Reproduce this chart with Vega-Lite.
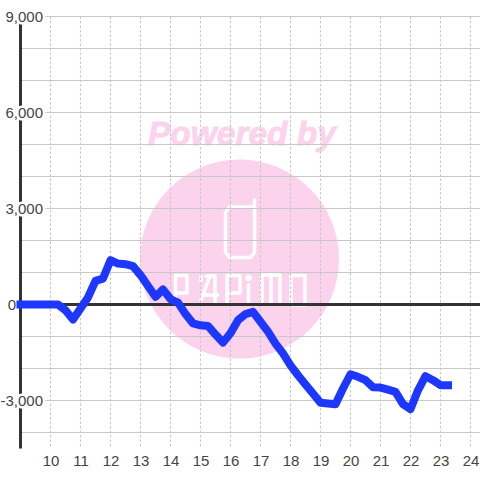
{"$schema":"https://vega.github.io/schema/vega-lite/v6.json","autosize":"none","width":459.5,"height":432,"padding":{"left":20.5,"top":16.5,"right":0,"bottom":31.5},"background":"white","config":{"view":{"stroke":null},"font":"Liberation Sans"},
"encoding":{"x":{"field":"x","type":"quantitative","scale":{"domain":[9,24.317],"nice":false,"zero":false},"axis":{"values":[10,11,12,13,14,15,16,17,18,19,20,21,22,23,24],"title":null,"grid":false,"domain":false,"ticks":false,"labelFont":"Liberation Sans","labelFontSize":15,"labelColor":"#444444","labelPadding":5,"labelFlush":false,"labelOverlap":false}},"y":{"field":"y","type":"quantitative","axis":null,"scale":{"domain":[-4500,9000],"nice":false,"zero":false}}},
"layer":[
{"data":{"values":[{"x":16.3,"y":1420}]},"mark":{"type":"point","filled":true,"size":39600,"color":"#fbd3ec","opacity":1}},
{"data":{"values":[{"x":16.38,"y":5312,"t":"Powered by"}]},"mark":{"type":"text","font":"Liberation Sans","fontWeight":"bold","fontStyle":"italic","fontSize":33.5,"color":"#fbd3ec","stroke":"#fbd3ec","strokeWidth":0.8,"align":"center","baseline":"middle"},"encoding":{"text":{"field":"t"}}},
{"data":{"values":[
{"s":"phone","o":1,"x":16.8,"y":3266},{"s":"phone","o":2,"x":16.8,"y":1625},{"s":"phone","o":3,"x":16.667,"y":1469},{"s":"phone","o":4,"x":15.967,"y":1469},{"s":"phone","o":5,"x":15.833,"y":1625},{"s":"phone","o":6,"x":15.833,"y":2875},{"s":"phone","o":7,"x":15.967,"y":3047},{"s":"phone","o":8,"x":16.8,"y":3047},
{"s":"p1","o":1,"x":14.167,"y":16},{"s":"p1","o":2,"x":14.167,"y":906},{"s":"p1","o":3,"x":14.55,"y":906},{"s":"p1","o":4,"x":14.55,"y":359},{"s":"p1","o":5,"x":14.167,"y":359},
{"s":"a1","o":1,"x":15.183,"y":891},{"s":"a1","o":2,"x":15.483,"y":891},{"s":"a1","o":3,"x":15.483,"y":16},
{"s":"a2","o":1,"x":15.317,"y":891},{"s":"a2","o":2,"x":15.017,"y":141},
{"s":"a3","o":1,"x":15.083,"y":297},{"s":"a3","o":2,"x":15.583,"y":297},
{"s":"a4","o":1,"x":15.017,"y":891},{"s":"a4","o":2,"x":15.017,"y":734},
{"s":"p2","o":1,"x":15.883,"y":16},{"s":"p2","o":2,"x":15.883,"y":906},{"s":"p2","o":3,"x":16.317,"y":906},{"s":"p2","o":4,"x":16.317,"y":359},{"s":"p2","o":5,"x":15.883,"y":359},
{"s":"i","o":1,"x":16.6,"y":609},{"s":"i","o":2,"x":16.6,"y":16},
{"s":"m1","o":1,"x":17.05,"y":16},{"s":"m1","o":2,"x":17.05,"y":922},{"s":"m1","o":3,"x":17.65,"y":922},{"s":"m1","o":4,"x":17.65,"y":16},
{"s":"m2","o":1,"x":17.35,"y":922},{"s":"m2","o":2,"x":17.35,"y":16},
{"s":"o","o":1,"x":18.017,"y":906},{"s":"o","o":2,"x":18.483,"y":906},{"s":"o","o":3,"x":18.483,"y":-16},{"s":"o","o":4,"x":18.017,"y":-16},{"s":"o","o":5,"x":18.017,"y":906}
]},"mark":{"type":"line","color":"white","strokeWidth":3.5,"strokeCap":"round","strokeJoin":"round","interpolate":"linear"},"encoding":{"detail":{"field":"s"},"order":{"field":"o"}}},
{"data":{"values":[{"x":16.6,"y":835}]},"mark":{"type":"point","filled":true,"size":45,"color":"white","opacity":1}},
{"data":{"values":[{"y":-4000},{"y":-3000},{"y":-2000},{"y":-1000},{"y":1000},{"y":2000},{"y":3000},{"y":4000},{"y":5000},{"y":6000},{"y":7000},{"y":8000},{"y":9000}]},"mark":{"type":"rule","color":"#c8c8c8","strokeWidth":1.1},"encoding":{"x":null}},
{"data":{"values":[{"x":10},{"x":11},{"x":12},{"x":13},{"x":14},{"x":15},{"x":16},{"x":17},{"x":18},{"x":19},{"x":20},{"x":21},{"x":22},{"x":23},{"x":24}]},"mark":{"type":"rule","color":"#c8c8c8","strokeWidth":1.1,"strokeDash":[2.5,2]},"encoding":{"y":null}},
{"data":{"values":[{"x":9}]},"mark":{"type":"rule","color":"#333333","strokeWidth":3},"encoding":{"y":null}},
{"data":{"values":[{"y":0}]},"mark":{"type":"rule","color":"#333333","strokeWidth":3},"encoding":{"x":null}},
{"data":{"values":[{"x":9.75,"y":9000,"t":"9,000"},{"x":9.75,"y":6000,"t":"6,000"},{"x":9.75,"y":3000,"t":"3,000"},{"x":9.75,"y":-3000,"t":"-3,000"},{"x":8.85,"y":0,"t":"0"}]},"mark":{"type":"text","font":"Liberation Sans","fontSize":15,"align":"right","baseline":"middle","color":"white","stroke":"white","strokeWidth":5},"encoding":{"text":{"field":"t"}}},
{"data":{"values":[{"x":9.75,"y":9000,"t":"9,000"},{"x":9.75,"y":6000,"t":"6,000"},{"x":9.75,"y":3000,"t":"3,000"},{"x":9.75,"y":-3000,"t":"-3,000"},{"x":8.85,"y":0,"t":"0"}]},"mark":{"type":"text","font":"Liberation Sans","fontSize":15,"align":"right","baseline":"middle","color":"#444444"},"encoding":{"text":{"field":"t"}}},
{"data":{"values":[{"x":9,"y":0},{"x":9.25,"y":0},{"x":9.5,"y":0},{"x":9.75,"y":0},{"x":10,"y":0},{"x":10.25,"y":0},{"x":10.5,"y":-180},{"x":10.75,"y":-470},{"x":11,"y":-125},{"x":11.25,"y":220},{"x":11.5,"y":740},{"x":11.75,"y":810},{"x":12,"y":1385},{"x":12.25,"y":1280},{"x":12.5,"y":1260},{"x":12.75,"y":1200},{"x":13,"y":920},{"x":13.25,"y":580},{"x":13.5,"y":240},{"x":13.75,"y":470},{"x":14,"y":170},{"x":14.25,"y":60},{"x":14.5,"y":-300},{"x":14.75,"y":-590},{"x":15,"y":-650},{"x":15.25,"y":-670},{"x":15.5,"y":-940},{"x":15.75,"y":-1190},{"x":16,"y":-900},{"x":16.25,"y":-490},{"x":16.5,"y":-300},{"x":16.75,"y":-230},{"x":17,"y":-540},{"x":17.25,"y":-850},{"x":17.5,"y":-1220},{"x":17.75,"y":-1530},{"x":18,"y":-1900},{"x":18.25,"y":-2210},{"x":18.5,"y":-2500},{"x":18.75,"y":-2780},{"x":19,"y":-3070},{"x":19.25,"y":-3095},{"x":19.5,"y":-3115},{"x":19.75,"y":-2625},{"x":20,"y":-2180},{"x":20.25,"y":-2260},{"x":20.5,"y":-2365},{"x":20.75,"y":-2585},{"x":21,"y":-2595},{"x":21.25,"y":-2660},{"x":21.5,"y":-2730},{"x":21.75,"y":-3115},{"x":22,"y":-3270},{"x":22.25,"y":-2680},{"x":22.5,"y":-2240},{"x":22.75,"y":-2365},{"x":23,"y":-2520},{"x":23.25,"y":-2520}]},"mark":{"type":"line","color":"#1e37ff","strokeWidth":8,"strokeCap":"square","strokeJoin":"round"}}
]}
